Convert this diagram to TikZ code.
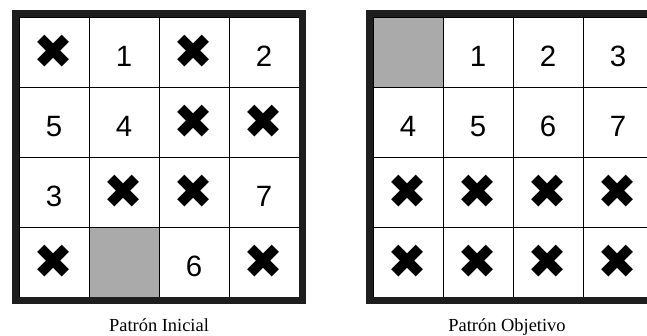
\documentclass[tikz,border=0pt]{standalone}
\usepackage{fontspec}
\setmainfont{Liberation Serif}
\newfontfamily\digitfont{Liberation Sans}
\newfontfamily\symfont{DejaVu Sans}
\definecolor{framecol}{HTML}{1E1E1E}
\definecolor{blankcol}{HTML}{AAAAAA}
\tikzset{
  cellbox/.style={draw=black, line width=0.9bp, fill=white, minimum size=70bp, inner sep=0pt, outer sep=0pt},
  blankbox/.style={cellbox, fill=blankcol},
  framebox/.style={draw=framecol, line width=7bp, minimum size=287bp, inner sep=0pt},
  digit/.style={anchor=base, inner sep=0pt, font=\digitfont\fontsize{29.5}{30}\selectfont},
  xmark/.style={inner sep=0pt, font=\symfont\fontsize{48}{48}\selectfont},
  caption/.style={anchor=base, inner sep=0pt, font=\fontsize{18.5}{20}\selectfont}
}
\begin{document}
\begin{tikzpicture}[x=1bp,y=-1bp]
\clip (0,0) rectangle (647,335);
\fill[white] (0,0) rectangle (647,335);
% ---------- left panel ----------
\foreach \c/\x in {1/54,2/124,3/194,4/264}{
  \foreach \r/\y in {1/52,2/122,3/192,4/262}{
    \node[cellbox] (L\r\c) at (\x,\y) {};
  }
}
\node[blankbox] (L42b) at (L42) {};
\node[xmark] (LX11) at (L11) {✖};
\node[digit] (LD12) at ([yshift=-14bp]L12.center) {1};
\node[xmark] (LX13) at (L13) {✖};
\node[digit] (LD14) at ([yshift=-14bp]L14.center) {2};
\node[digit] (LD21) at ([yshift=-14bp]L21.center) {5};
\node[digit] (LD22) at ([yshift=-14bp]L22.center) {4};
\node[xmark] (LX23) at (L23) {✖};
\node[xmark] (LX24) at (L24) {✖};
\node[digit] (LD31) at ([yshift=-14bp]L31.center) {3};
\node[xmark] (LX32) at (L32) {✖};
\node[xmark] (LX33) at (L33) {✖};
\node[digit] (LD34) at ([yshift=-14bp]L34.center) {7};
\node[xmark] (LX41) at (L41) {✖};
\node[digit] (LD43) at ([yshift=-14bp]L43.center) {6};
\node[xmark] (LX44) at (L44) {✖};
\node[framebox] (LF) at (159,157) {};
\node[caption] (LC) at (159,331) {Patrón Inicial};
% ---------- right panel ----------
\foreach \c/\x in {1/408,2/478,3/548,4/618}{
  \foreach \r/\y in {1/52,2/122,3/192,4/262}{
    \node[cellbox] (R\r\c) at (\x,\y) {};
  }
}
\node[blankbox] (R11b) at (R11) {};
\node[digit] (RD12) at ([yshift=-14bp]R12.center) {1};
\node[digit] (RD13) at ([yshift=-14bp]R13.center) {2};
\node[digit] (RD14) at ([yshift=-14bp]R14.center) {3};
\node[digit] (RD21) at ([yshift=-14bp]R21.center) {4};
\node[digit] (RD22) at ([yshift=-14bp]R22.center) {5};
\node[digit] (RD23) at ([yshift=-14bp]R23.center) {6};
\node[digit] (RD24) at ([yshift=-14bp]R24.center) {7};
\foreach \r in {3,4}{
  \foreach \c in {1,2,3,4}{
    \node[xmark] (RX\r\c) at (R\r\c) {✖};
  }
}
\node[framebox] (RF) at (513,157) {};
\node[caption] (RC) at (507,331) {Patrón Objetivo};
\end{tikzpicture}
\end{document}
